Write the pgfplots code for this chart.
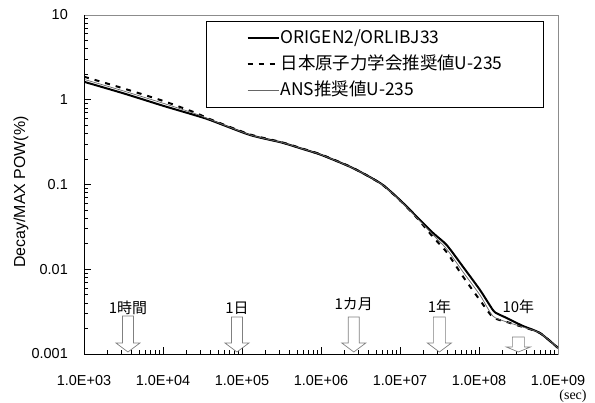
\documentclass[border=0pt]{standalone}
\usepackage{pgfplots}
\pgfplotsset{compat=1.18}
\usepackage{fontspec}
\setmainfont{Liberation Sans}
\newfontfamily\jp{Noto Sans CJK JP}
\newfontfamily\serifx{Liberation Serif}

\newcommand{\dnarrow}[4]{% x, top, headstart, halfshaft
  \draw[gray, line width=0.7bp, fill=white]
    ([xshift=-#4bp,yshift=#2bp]axis cs:#1,0.001) --
    ([xshift=-#4bp,yshift=#3bp]axis cs:#1,0.001) --
    ([xshift=-12bp,yshift=#3bp]axis cs:#1,0.001) --
    ([xshift=0bp,yshift=2bp]axis cs:#1,0.001) --
    ([xshift=12bp,yshift=#3bp]axis cs:#1,0.001) --
    ([xshift=#4bp,yshift=#3bp]axis cs:#1,0.001) --
    ([xshift=#4bp,yshift=#2bp]axis cs:#1,0.001) -- cycle;
}

\begin{document}
\begin{tikzpicture}
\begin{axis}[
  scale only axis,
  width=474bp, height=339bp,
  xmode=log, ymode=log,
  xmin=1e3, xmax=1e9, ymin=1e-3, ymax=10,
  clip mode=individual,
  axis line style={black!45, line width=0.7bp},
  tick pos=left,
  tick align=inside,
  major tick length=7bp, minor tick length=4bp,
  every tick/.append style={black, line width=0.9bp},
  xtick={1e3,1e4,1e5,1e6,1e7,1e8,1e9},
  xticklabels={1.0E+03,1.0E+04,1.0E+05,1.0E+06,1.0E+07,1.0E+08,1.0E+09},
  ytick={1e-3,1e-2,1e-1,1,10},
  yticklabels={0.001,0.01,0.1,1,10},
  /pgf/number format/assume math mode=true,
  ticklabel style={font=\fontsize{14.5}{16}\selectfont},
  xticklabel style={anchor=center, yshift=-27bp},
  yticklabel style={anchor=east, inner sep=0pt, xshift=-16bp},
  ylabel={Decay/MAX POW(\%)},
  ylabel style={at={(axis description cs:-0.133,0.478)}, anchor=center, font=\fontsize{16}{18}\selectfont},
  legend cell align=left,
  legend style={at={(rel axis cs:0.9705,0.9823)}, anchor=north east,
    draw=black, line width=0.8bp, inner xsep=40bp, inner ysep=8bp,
    row sep=8bp,
    nodes={inner sep=1bp, text height=13bp, text depth=3bp},
    font=\jp\fontsize{17.5}{19}\selectfont},
  legend image code/.code={\draw[#1] (0bp,0bp) -- (31bp,0bp);},
]
\addplot[black, line width=2bp, smooth, tension=0.4] coordinates {
(1e3,1.63) (3.16e3,1.19) (1e4,0.85) (2.5e4,0.66) (3.94e4,0.577) (1.26e5,0.384)
(3.16e5,0.313) (5.6e5,0.266) (1e6,0.224) (2.33e6,0.162) (4e6,0.125) (6.1e6,0.0986)
(1e7,0.0656) (1.63e7,0.0417) (2.62e7,0.0268) (3.9e7,0.0193) (6.27e7,0.0107)
(1.03e8,0.00569) (1.5e8,0.0033) (1.7e8,0.0030) (2.24e8,0.00266) (3.6e8,0.00214)
(5.9e8,0.00177) (1e9,0.00118)};
\addlegendentry{ORIGEN2/ORLIBJ33}
\addplot[black, line width=2bp, dash pattern=on 5bp off 6bp, smooth, tension=0.4] coordinates {
(1e3,1.87) (3.16e3,1.36) (1e4,0.97) (2.5e4,0.71) (3.94e4,0.59) (1.26e5,0.39)
(3.16e5,0.316) (5.6e5,0.268) (1e6,0.226) (2.33e6,0.163) (4e6,0.125) (6.1e6,0.098)
(1e7,0.065) (1.63e7,0.0406) (2.62e7,0.0240) (3.9e7,0.0159) (6.27e7,0.0082)
(1.03e8,0.0043) (1.5e8,0.00272) (2.24e8,0.00239) (3.6e8,0.00208)
(5.9e8,0.00177) (1e9,0.00118)};
\addlegendentry{日本原子力学会推奨値U-235}
\addplot[black!60, line width=0.7bp, smooth, tension=0.4] coordinates {
(1e3,1.74) (3.16e3,1.27) (1e4,0.91) (2.5e4,0.69) (3.94e4,0.585) (1.26e5,0.386)
(3.16e5,0.314) (5.6e5,0.267) (1e6,0.225) (2.33e6,0.162) (4e6,0.125) (6.1e6,0.098)
(1e7,0.065) (1.63e7,0.0406) (2.62e7,0.0254) (3.9e7,0.0173) (6.27e7,0.0093)
(1.03e8,0.00495) (1.5e8,0.0028) (2.24e8,0.00239) (3.6e8,0.00208)
(5.9e8,0.00177) (1e9,0.00118)};
\addlegendentry{ANS推奨値U-235}

\draw[black, line width=0.9bp] (rel axis cs:0,1) -- (rel axis cs:0,0) -- (rel axis cs:1,0);

% tick marks
\pgfplotsinvokeforeach{1e4,1e5,1e6,1e7,1e8}{
  \draw[black, line width=0.9bp] (axis cs:#1,0.001) -- ++(0bp,7bp);
}
\pgfplotsinvokeforeach{2e3,3e3,4e3,5e3,6e3,7e3,8e3,9e3,
    2e4,3e4,4e4,5e4,6e4,7e4,8e4,9e4,
    2e5,3e5,4e5,5e5,6e5,7e5,8e5,9e5,
    2e6,3e6,4e6,5e6,6e6,7e6,8e6,9e6,
    2e7,3e7,4e7,5e7,6e7,7e7,8e7,9e7,
    2e8,3e8,4e8,5e8,6e8,7e8,8e8,9e8}{
  \draw[black, line width=0.8bp] (axis cs:#1,0.001) -- ++(0bp,4bp);
}
\pgfplotsinvokeforeach{1e-2,1e-1,1}{
  \draw[black, line width=0.9bp] (axis cs:1e3,#1) -- ++(7bp,0bp);
}
\pgfplotsinvokeforeach{2e-3,3e-3,4e-3,5e-3,6e-3,7e-3,8e-3,9e-3,
    2e-2,3e-2,4e-2,5e-2,6e-2,7e-2,8e-2,9e-2,
    0.2,0.3,0.4,0.5,0.6,0.7,0.8,0.9,
    2,3,4,5,6,7,8,9}{
  \draw[black, line width=0.8bp] (axis cs:1e3,#1) -- ++(4bp,0bp);
}

\dnarrow{3600}{38}{11}{5.5}
\dnarrow{86400}{37}{11}{5.5}
\dnarrow{2.6e6}{37}{11}{5.5}
\dnarrow{3.15e7}{37}{11}{6}
\dnarrow{3.15e8}{17}{7}{6}

\node[font=\jp\fontsize{15}{17}\selectfont] at ([yshift=46bp]axis cs:3600,0.001) {1時間};
\node[font=\jp\fontsize{15}{17}\selectfont] at ([yshift=46bp]axis cs:86400,0.001) {1日};
\node[font=\jp\fontsize{15}{17}\selectfont] at ([yshift=50bp]axis cs:2.6e6,0.001) {1カ月};
\node[font=\jp\fontsize{15}{17}\selectfont] at ([yshift=47bp]axis cs:3.15e7,0.001) {1年};
\node[font=\jp\fontsize{15}{17}\selectfont] at ([yshift=47bp]axis cs:3.15e8,0.001) {10年};
\node[font=\serifx\fontsize{14}{16}\selectfont] at ([xshift=15bp,yshift=-42bp]axis cs:1e9,0.001) {(sec)};
\end{axis}
\pgfresetboundingbox
\path[use as bounding box] (-84bp,-49bp) rectangle (511bp,354bp);
\end{tikzpicture}
\end{document}
